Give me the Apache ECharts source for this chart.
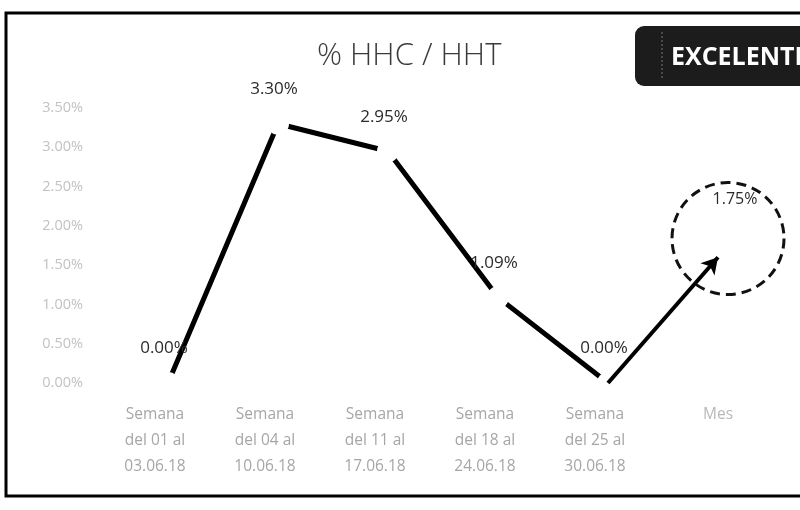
<!DOCTYPE html>
<html>
<head>
<meta charset="utf-8">
<script src="https://cdn.jsdelivr.net/npm/echarts@6/dist/echarts.min.js"></script>
<style>
html,body{margin:0;padding:0;background:#fff;}
#chart{width:800px;height:510px;}
</style>
</head>
<body>
<div id="chart"></div>
<script>
// data
var categories = [
	'Semana\ndel 01 al\n03.06.18',
	'Semana\ndel 04 al\n10.06.18',
	'Semana\ndel 11 al\n17.06.18',
	'Semana\ndel 18 al\n24.06.18',
	'Semana\ndel 25 al\n30.06.18',
	'Mes'
];
var weekValues = [0, 3.30, 2.95, 1.09, 0, '-'];
var monthValues = ['-', '-', '-', '-', '-', 1.75];
var yTicks = {min: 0, max: 3.5, interval: 0.5};

var pct = function(v){ return Number(v).toFixed(2) + '%'; };

var myChart = echarts.init(document.getElementById('chart'));
var option = {
	animation: false,
	title: {
		text: '% HHC / HHT',
		left: 312,
		top: 36,
		textStyle: {
			fontFamily: 'Open Sans',
			fontWeight: 300,
			fontSize: 31,
			color: '#3a3a3a'
		}
	},
	grid: {
		left: 113,
		right: 27,
		top: 108,
		bottom: 127
	},
	xAxis: {
		type: 'category',
		data: categories,
		boundaryGap: true,
		axisLine: {show: false},
		axisTick: {show: false},
		axisLabel: {
			margin: 19,
			interval: 0,
			formatter: function(value, idx){
				var key = idx < 5 ? 'a' : 'b';
				return value.split('\n').map(function(s){
					return '{' + key + '|' + s + '}';
				}).join('\n');
			},
			rich: {
				a: {
					fontFamily: 'Open Sans',
					fontSize: 15.5,
					color: '#a6a6a6',
					lineHeight: 26,
					padding: [0, 26, 0, 0]
				},
				b: {
					fontFamily: 'Open Sans',
					fontSize: 15.5,
					color: '#b8b8b8',
					lineHeight: 26
				}
			}
		}
	},
	yAxis: {
		type: 'value',
		min: yTicks.min,
		max: yTicks.max,
		interval: yTicks.interval,
		axisLine: {show: false},
		axisTick: {show: false},
		splitLine: {show: false},
		axisLabel: {
			margin: 30,
			formatter: pct,
			fontFamily: 'Open Sans',
			fontSize: 14.5,
			color: '#c2c2c2'
		}
	},
	series: [
		{
			type: 'line',
			data: weekValues,
			symbol: 'circle',
			symbolSize: 22,
			itemStyle: {color: '#fff', borderWidth: 0},
			lineStyle: {color: '#000', width: 5},
			label: {
				show: true,
				position: 'top',
				distance: 15,
				offset: [-4, 0],
				formatter: function(p){ return pct(p.value); },
				fontFamily: 'Open Sans',
				fontSize: 17,
				color: '#2a2a2a'
			},
			z: 3
		},
		{
			type: 'line',
			data: monthValues,
			symbol: 'circle',
			symbolSize: 2,
			itemStyle: {color: '#fff', borderWidth: 0},
			lineStyle: {width: 0},
			label: {
				show: true,
				position: 'top',
				distance: 23,
				offset: [17, -14],
				formatter: function(p){ return pct(p.value); },
				fontFamily: 'Open Sans',
				fontSize: 16,
				color: '#2a2a2a'
			},
			markLine: {
				silent: true,
				symbol: ['none', 'arrow'],
				symbolSize: [14, 16],
				label: {show: false},
				lineStyle: {color: '#000', width: 4, type: 'solid'},
				data: [[{coord: [4, 0]}, {coord: [5, 1.60]}]]
			},
			markPoint: {
				silent: true,
				symbol: 'circle',
				symbolSize: [112, 112],
				symbolOffset: [10, -7],
				label: {show: false},
				itemStyle: {
					color: 'rgba(0,0,0,0)',
					borderColor: '#111',
					borderWidth: 3,
					borderType: [10, 6]
				},
				data: [{coord: [5, 1.75]}]
			},
			z: 4
		}
	],
	graphic: [
		{
			type: 'rect',
			shape: {x: 6, y: 13, width: 820, height: 483},
			style: {fill: 'none', stroke: '#000', lineWidth: 3}
		},
		{
			type: 'rect',
			shape: {x: 635, y: 26, width: 190, height: 60, r: 9},
			style: {fill: '#1c1c1c'}
		},
		{
			type: 'line',
			shape: {x1: 662, y1: 32, x2: 662, y2: 80},
			style: {stroke: '#777', lineWidth: 1, lineDash: [2, 2]}
		},
		{
			type: 'text',
			x: 671,
			y: 58,
			style: {
				text: 'EXCELENTE',
				fill: '#fff',
				fontFamily: 'Open Sans',
				fontWeight: 'bold',
				fontSize: 25,
				verticalAlign: 'middle'
			}
		}
	]
};
myChart.setOption(option);
window.addEventListener('resize', function(){
	myChart.resize();
});
</script>
</body>
</html>
